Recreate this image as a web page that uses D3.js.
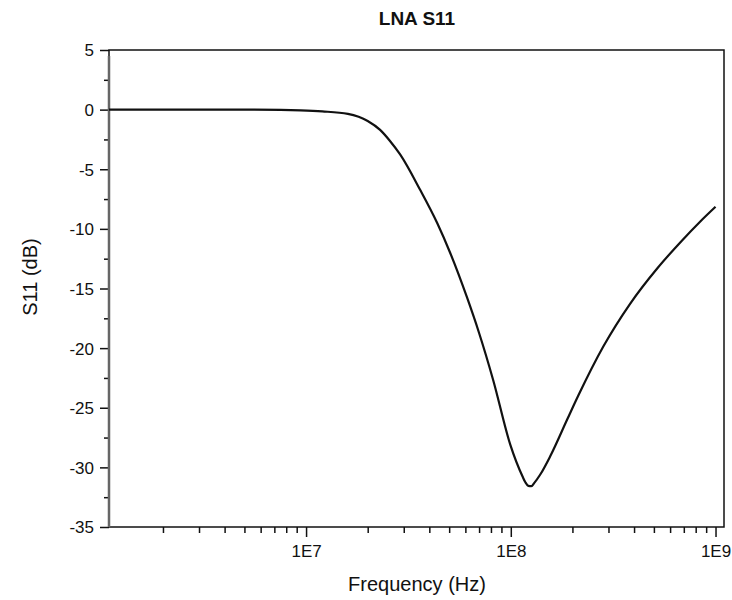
<!DOCTYPE html>
<html>
<head>
<meta charset="utf-8">
<script src="https://cdn.jsdelivr.net/npm/d3@7"></script>
<style>
  body { margin: 0; background: #fff; }
  text { font-family: Arial, "Liberation Sans", sans-serif; fill: #111; }
</style>
</head>
<body>
<div id="chart"></div>
<script>
// S11 readings (frequency in Hz, reflection in dB)
var freqHz = [1.09e6, 3e6, 5e6, 7.5e6, 9.4e6, 1.2e7, 1.6e7, 2.0e7, 2.3e7, 2.57e7, 2.88e7,
              3.6e7, 4.37e7, 5.06e7, 6.1e7, 7.0e7, 8.2e7, 9.95e7, 1.14e8, 1.178e8, 1.218e8,
              1.26e8, 1.303e8, 1.393e8, 1.56e8, 1.89e8, 2.14e8, 2.83e8, 3.84e8, 5.2e8,
              6.74e8, 8.45e8, 1e9];
var s11dB  = [0, 0, 0, -0.02, -0.06, -0.15, -0.36, -0.95, -1.7, -2.63, -3.76,
              -6.7, -9.51, -12.02, -15.71, -18.73, -22.67, -28.12, -30.75, -31.25, -31.55,
              -31.58, -31.3, -30.6, -29.05, -25.95, -23.96, -19.87, -16.24, -13.3,
              -11.12, -9.36, -8.15];
var yTicks = [-35, -30, -25, -20, -15, -10, -5, 0, 5];
var xTicks = [1e7, 1e8, 1e9];
var xTickLabels = ["1E7", "1E8", "1E9"];

function init() {
    var w = 732, h = 600;
    var left = 109, right = 724, top = 50, bottom = 527;

    var svg = d3.select("#chart").append("svg")
        .attr("width", w)
        .attr("height", h);

    var x = d3.scaleLog().domain([1.09e6, 1.1e9]).range([left, right]);
    var y = d3.scaleLinear().domain([-35, 5]).range([bottom, top]);

    // minor ticks on x: 2..9 of each decade
    var xMinor = [];
    [1e6, 1e7, 1e8].forEach(function(d) {
        for (var k = 2; k <= 9; k++) {
            if (d * k >= x.domain()[0] && d * k <= x.domain()[1]) xMinor.push(d * k);
        }
    });
    var yMinor = d3.range(-32.5, 5, 5);

    // x axis
    var gx = svg.append("g").attr("transform", "translate(0," + bottom + ")");
    gx.call(d3.axisBottom(x).tickValues(xMinor).tickSize(6).tickFormat(""));
    gx.call(function(g) {
        g.append("g").call(d3.axisBottom(x).tickValues(xTicks).tickSize(10)
            .tickFormat(function(d, i) { return xTickLabels[i]; }));
    });
    gx.selectAll(".domain").remove();
    gx.selectAll("line").attr("stroke", "#111").attr("stroke-width", 1.5);
    gx.selectAll("text").attr("font-size", 17).attr("dy", 0).attr("y", 30)
        .attr("fill", "#111").attr("font-family", "Arial, 'Liberation Sans', sans-serif");

    // y axis
    var gy = svg.append("g").attr("transform", "translate(" + left + ",0)");
    gy.call(d3.axisLeft(y).tickValues(yMinor).tickSize(5).tickFormat(""));
    gy.call(function(g) {
        g.append("g").call(d3.axisLeft(y).tickValues(yTicks).tickSize(9)
            .tickFormat(function(d) { return d < 0 ? "-" + Math.abs(d) : d; }));
    });
    gy.selectAll(".domain").remove();
    gy.selectAll("line").attr("stroke", "#111").attr("stroke-width", 1.5);
    gy.selectAll("text").attr("font-size", 17).attr("x", -15).attr("dy", "0.35em")
        .attr("fill", "#111").attr("font-family", "Arial, 'Liberation Sans', sans-serif");

    // frame
    svg.append("rect")
        .attr("x", left).attr("y", top)
        .attr("width", right - left).attr("height", bottom - top)
        .attr("fill", "none").attr("stroke", "#111").attr("stroke-width", 1.5);
    svg.append("line")
        .attr("x1", left).attr("x2", left).attr("y1", top + 6).attr("y2", bottom)
        .attr("stroke", "#666").attr("stroke-width", 2.5);

    // curve
    var line = d3.line()
        .x(function(d, i) { return x(freqHz[i]); })
        .y(function(d) { return y(d); })
        .curve(d3.curveMonotoneX);
    svg.append("path")
        .datum(s11dB)
        .attr("d", line)
        .attr("fill", "none")
        .attr("stroke", "#111")
        .attr("stroke-width", 2.2)
        .attr("stroke-linejoin", "round");

    // titles
    svg.append("text")
        .attr("x", 417).attr("y", 25)
        .attr("text-anchor", "middle")
        .attr("font-size", 19).attr("font-weight", "bold")
        .text("LNA S11");
    svg.append("text")
        .attr("x", 417).attr("y", 591)
        .attr("text-anchor", "middle")
        .attr("font-size", 20)
        .text("Frequency (Hz)");
    svg.append("text")
        .attr("transform", "translate(37,277) rotate(-90)")
        .attr("text-anchor", "middle")
        .attr("font-size", 20)
        .text("S11 (dB)");
}

window.onload = init;
</script>
</body>
</html>
